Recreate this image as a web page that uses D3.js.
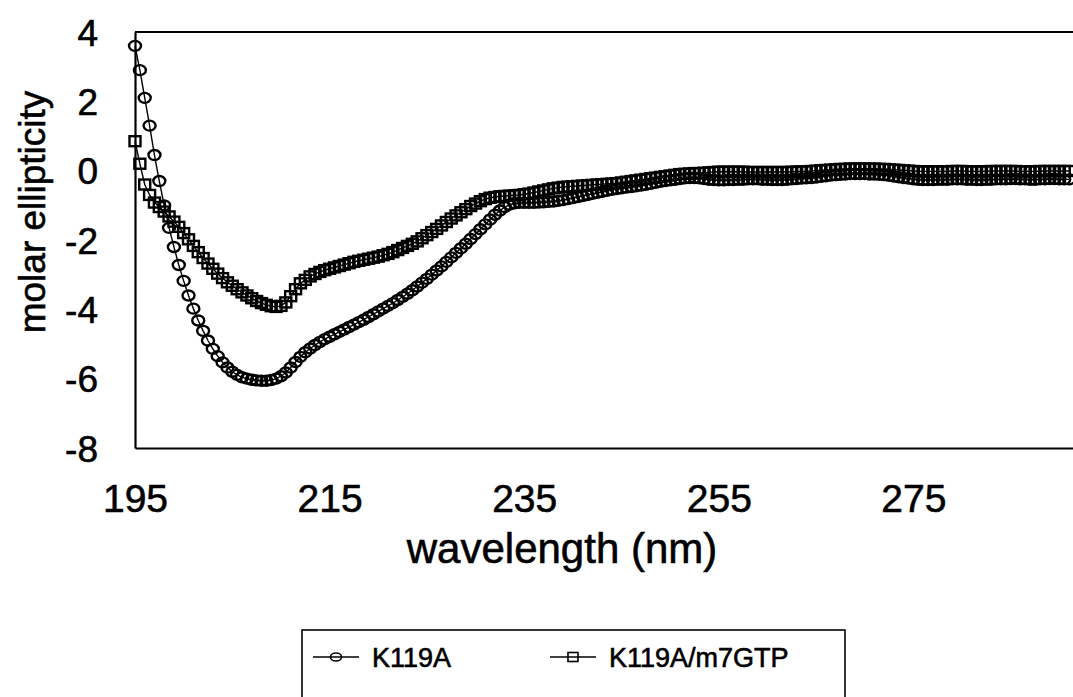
<!DOCTYPE html>
<html>
<head>
<meta charset="utf-8">
<script src="https://cdn.jsdelivr.net/npm/d3@7"></script>
<style>
  html, body { margin: 0; padding: 0; background: #fff; }
  svg { display: block; }
  text { font-family: "Liberation Sans", Arial, sans-serif; fill: #000; stroke: #000; stroke-width: 0.6px; }
</style>
</head>
<body>
<svg id="chart" width="1073" height="697"></svg>
<script>
// ---------- data ----------
const wavelengths = [
195,195.5,196,196.5,197,197.5,198,198.5,199,199.5,200,200.5,201,201.5,202,202.5,203,203.5,204,204.5,
205,205.5,206,206.5,207,207.5,208,208.5,209,209.5,210,210.5,211,211.5,212,212.5,213,213.5,214,214.5,
215,215.5,216,216.5,217,217.5,218,218.5,219,219.5,220,220.5,221,221.5,222,222.5,223,223.5,224,224.5,
225,225.5,226,226.5,227,227.5,228,228.5,229,229.5,230,230.5,231,231.5,232,232.5,233,233.5,234,234.5,
235,235.5,236,236.5,237,237.5,238,238.5,239,239.5,240,240.5,241,241.5,242,242.5,243,243.5,244,244.5,
245,245.5,246,246.5,247,247.5,248,248.5,249,249.5,250,250.5,251,251.5,252,252.5,253,253.5,254,254.5,
255,255.5,256,256.5,257,257.5,258,258.5,259,259.5,260,260.5,261,261.5,262,262.5,263,263.5,264,264.5,
265,265.5,266,266.5,267,267.5,268,268.5,269,269.5,270,270.5,271,271.5,272,272.5,273,273.5,274,274.5,
275,275.5,276,276.5,277,277.5,278,278.5,279,279.5,280,280.5,281,281.5,282,282.5,283,283.5,284,284.5,
285,285.5,286,286.5,287,287.5,288,288.5,289,289.5,290,290.5,291];

const k119a = [
3.60,2.90,2.10,1.30,0.45,-0.30,-1.00,-1.65,-2.20,-2.72,-3.18,-3.60,-3.98,-4.32,-4.62,-4.90,-5.14,-5.35,-5.53,-5.68,
-5.80,-5.89,-5.96,-6.00,-6.03,-6.05,-6.06,-6.06,-6.04,-6.00,-5.93,-5.82,-5.68,-5.52,-5.37,-5.24,-5.13,-5.03,-4.94,-4.86,
-4.79,-4.72,-4.65,-4.58,-4.51,-4.44,-4.37,-4.30,-4.22,-4.14,-4.06,-3.98,-3.90,-3.82,-3.73,-3.64,-3.55,-3.45,-3.34,-3.23,
-3.12,-3.00,-2.88,-2.76,-2.63,-2.50,-2.37,-2.24,-2.11,-1.97,-1.83,-1.69,-1.55,-1.41,-1.27,-1.15,-1.05,-0.98,-0.94,-0.93,
-0.93,-0.93,-0.93,-0.92,-0.91,-0.90,-0.89,-0.87,-0.85,-0.82,-0.79,-0.76,-0.73,-0.70,-0.67,-0.64,-0.61,-0.58,-0.55,-0.53,
-0.51,-0.49,-0.47,-0.45,-0.43,-0.41,-0.38,-0.35,-0.32,-0.30,-0.28,-0.26,-0.24,-0.22,-0.21,-0.21,-0.22,-0.24,-0.26,-0.27,
-0.28,-0.28,-0.27,-0.27,-0.26,-0.26,-0.25,-0.25,-0.25,-0.26,-0.26,-0.27,-0.27,-0.27,-0.26,-0.25,-0.24,-0.23,-0.22,-0.21,
-0.20,-0.18,-0.16,-0.14,-0.13,-0.12,-0.11,-0.10,-0.10,-0.10,-0.10,-0.11,-0.11,-0.12,-0.13,-0.15,-0.17,-0.19,-0.21,-0.23,
-0.25,-0.26,-0.27,-0.27,-0.27,-0.26,-0.26,-0.26,-0.25,-0.25,-0.25,-0.26,-0.26,-0.27,-0.27,-0.26,-0.26,-0.25,-0.25,-0.25,
-0.24,-0.24,-0.25,-0.25,-0.26,-0.26,-0.25,-0.25,-0.24,-0.24,-0.25,-0.25,-0.25];

const k119aM7gtp = [
0.85,0.20,-0.40,-0.70,-0.92,-1.05,-1.18,-1.32,-1.47,-1.62,-1.80,-1.98,-2.17,-2.35,-2.52,-2.68,-2.83,-2.97,-3.10,-3.22,
-3.32,-3.42,-3.51,-3.60,-3.68,-3.76,-3.82,-3.87,-3.91,-3.93,-3.90,-3.80,-3.62,-3.42,-3.25,-3.15,-3.05,-2.98,-2.92,-2.87,
-2.83,-2.79,-2.75,-2.71,-2.67,-2.63,-2.60,-2.57,-2.54,-2.51,-2.48,-2.44,-2.40,-2.35,-2.29,-2.23,-2.17,-2.11,-2.04,-1.95,
-1.86,-1.77,-1.68,-1.58,-1.48,-1.38,-1.29,-1.20,-1.11,-1.02,-0.95,-0.88,-0.82,-0.78,-0.76,-0.74,-0.73,-0.72,-0.71,-0.70,
-0.68,-0.66,-0.63,-0.60,-0.57,-0.54,-0.51,-0.49,-0.47,-0.46,-0.45,-0.44,-0.43,-0.42,-0.41,-0.40,-0.39,-0.38,-0.37,-0.36,
-0.34,-0.32,-0.30,-0.28,-0.26,-0.24,-0.22,-0.20,-0.18,-0.16,-0.14,-0.12,-0.10,-0.09,-0.08,-0.07,-0.07,-0.06,-0.05,-0.04,
-0.03,-0.03,-0.03,-0.03,-0.03,-0.03,-0.04,-0.04,-0.04,-0.04,-0.04,-0.04,-0.04,-0.04,-0.04,-0.03,-0.03,-0.02,-0.02,-0.01,
0.00,0.01,0.02,0.03,0.04,0.05,0.05,0.06,0.06,0.06,0.06,0.06,0.06,0.05,0.05,0.04,0.03,0.02,0.01,0.00,
-0.01,-0.02,-0.02,-0.02,-0.02,-0.02,-0.02,-0.02,-0.01,-0.01,-0.01,-0.02,-0.02,-0.02,-0.02,-0.02,-0.01,-0.01,-0.01,-0.01,
-0.01,-0.01,-0.02,-0.02,-0.02,-0.02,-0.01,-0.01,-0.01,-0.01,-0.01,-0.01,-0.01];

const xTicks = [195, 215, 235, 255, 275];
const yTicks = [4, 2, 0, -2, -4, -6, -8];
const seriesNames = ["K119A", "K119A/m7GTP"];
const xTitle = "wavelength (nm)";
const yTitle = "molar ellipticity";

// ---------- layout ----------
const W = 1073, H = 697;
const plot = { left: 135, right: 1073, top: 32, bottom: 448 };
const pxPerNm = 9.73;

const svg = d3.select("#chart");

const x = d3.scaleLinear()
  .domain([195, 195 + (plot.right - plot.left) / pxPerNm])
  .range([plot.left, plot.right]);
const y = d3.scaleLinear().domain([-8, 4]).range([plot.bottom, plot.top]);

svg.append("defs").append("clipPath").attr("id", "clip")
  .append("rect").attr("x", plot.left - 12).attr("y", 0)
  .attr("width", plot.right - plot.left + 12).attr("height", plot.bottom + 10);

// top frame line
svg.append("line")
  .attr("x1", plot.left).attr("x2", plot.right)
  .attr("y1", plot.top).attr("y2", plot.top)
  .attr("stroke", "#000").attr("stroke-width", 2.2);

const fmt = d => String(d);

// y axis
const yAxis = svg.append("g")
  .attr("transform", `translate(${plot.left},0)`)
  .call(d3.axisLeft(y).tickValues(yTicks).tickSize(0).tickPadding(37).tickFormat(fmt));
yAxis.select(".domain").attr("stroke", "#000").attr("stroke-width", 2.2);
yAxis.selectAll("text").style("font-size", "37px").attr("dy", "0.36em");

// x axis
const xAxis = svg.append("g")
  .attr("transform", `translate(0,${plot.bottom})`)
  .call(d3.axisBottom(x).tickValues(xTicks).tickSize(0).tickPadding(36).tickFormat(fmt));
xAxis.select(".domain").attr("stroke", "#000").attr("stroke-width", 2.2);
xAxis.selectAll("text").style("font-size", "39px");

// axis titles
svg.append("text")
  .attr("x", 562).attr("y", 563)
  .attr("text-anchor", "middle")
  .style("font-size", "42px")
  .text(xTitle);

svg.append("text")
  .attr("transform", "translate(45,212) rotate(-90)")
  .attr("text-anchor", "middle")
  .style("font-size", "37px")
  .text(yTitle);

// ---------- series ----------
const seriesA = wavelengths.map((w, i) => ({ w, v: k119a[i] }));
const seriesB = wavelengths.map((w, i) => ({ w, v: k119aM7gtp[i] }));

const line = d3.line().x(d => x(d.w)).y(d => y(d.v));
const gData = svg.append("g").attr("clip-path", "url(#clip)");

function drawSeries(data, shape) {
  gData.append("path")
    .datum(data)
    .attr("d", line)
    .attr("fill", "none")
    .attr("stroke", "#000")
    .attr("stroke-width", 1.4);
  const g = gData.append("g");
  if (shape === "circle") {
    g.selectAll("ellipse").data(data).join("ellipse")
      .attr("cx", d => x(d.w)).attr("cy", d => y(d.v))
      .attr("rx", 6).attr("ry", 5)
      .attr("fill", "none").attr("stroke", "#000").attr("stroke-width", 2.4);
  } else {
    g.selectAll("rect").data(data).join("rect")
      .attr("x", d => x(d.w) - 5.5).attr("y", d => y(d.v) - 5)
      .attr("width", 11).attr("height", 10)
      .attr("fill", "none").attr("stroke", "#000").attr("stroke-width", 2.4);
  }
}
drawSeries(seriesA, "circle");
drawSeries(seriesB, "square");

// ---------- legend ----------
const legend = svg.append("g");
legend.append("rect")
  .attr("x", 302).attr("y", 630).attr("width", 543).attr("height", 120)
  .attr("fill", "none").attr("stroke", "#000").attr("stroke-width", 1.6);

const legendItems = [
  { name: seriesNames[0], shape: "circle", x0: 313 },
  { name: seriesNames[1], shape: "square", x0: 550 }
];
const ly = 657;
legendItems.forEach(it => {
  legend.append("line")
    .attr("x1", it.x0).attr("x2", it.x0 + 46)
    .attr("y1", ly).attr("y2", ly)
    .attr("stroke", "#000").attr("stroke-width", 1.6);
  const cx = it.x0 + 23;
  if (it.shape === "circle") {
    legend.append("ellipse").attr("cx", cx).attr("cy", ly).attr("rx", 5.5).attr("ry", 4)
      .attr("fill", "none").attr("stroke", "#000").attr("stroke-width", 1.6);
  } else {
    legend.append("rect").attr("x", cx - 5).attr("y", ly - 4.5).attr("width", 10).attr("height", 9)
      .attr("fill", "none").attr("stroke", "#000").attr("stroke-width", 1.6);
  }
  legend.append("text")
    .attr("x", it.x0 + 59).attr("y", ly + 9.5)
    .style("font-size", "27px")
    .text(it.name);
});
</script>
</body>
</html>
